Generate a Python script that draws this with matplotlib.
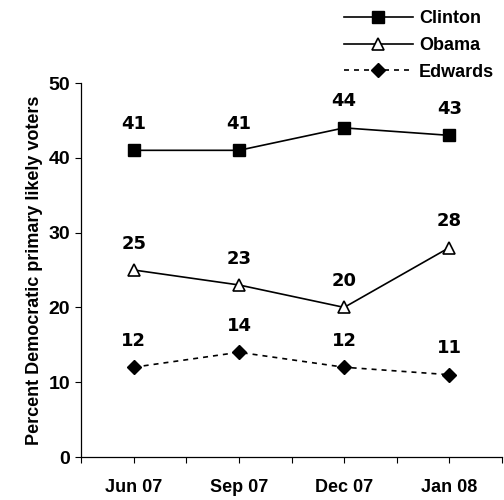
# poll trend chart: Democratic primary likely voters, Jun 07 - Jan 08

import matplotlib
matplotlib.use("Agg")
import matplotlib.pyplot as plt

months   = ["Jun 07", "Sep 07", "Dec 07", "Jan 08"]
clinton  = [41, 41, 44, 43]
obama    = [25, 23, 20, 28]
edwards  = [12, 14, 12, 11]
y_ticks  = [0, 10, 20, 30, 40, 50]

plt.rcParams["font.family"] = ["Liberation Sans", "DejaVu Sans"]
plt.rcParams["font.weight"] = "bold"

fig = plt.figure(figsize=(5.04, 5.0), dpi=100)
ax = fig.add_axes([0.161, 0.086, 0.835, 0.748])

x = list(range(len(months)))

ax.plot(x, clinton, color="black", lw=1.2, marker="s", ms=8,
        mfc="black", mec="black", label="Clinton")
ax.plot(x, obama, color="black", lw=1.2, marker="^", ms=9,
        mfc="white", mec="black", mew=1.2, label="Obama")
ax.plot(x, edwards, color="black", lw=1.2, ls=(0, (3, 3)), marker="D", ms=7,
        mfc="black", mec="black", label="Edwards")

# value labels sit above each point (the reference uses a wider, Verdana-like face)
for series in (clinton, obama, edwards):
    for xi, v in zip(x, series):
        ax.annotate(str(v), (xi, v), xytext=(0, 19), textcoords="offset points",
                    ha="center", va="center", fontsize=13, fontweight="bold",
                    family="DejaVu Sans")

ax.set_xlim(-0.5, len(months) - 0.5)
ax.set_ylim(0, 50)
ax.set_xticks(x)
ax.set_xticklabels(months)
# small tick marks at every half category, like the original
ax.set_xticks([i * 0.5 - 0.5 for i in range(2 * len(months) + 1)], minor=True)
ax.tick_params(axis="x", which="major", length=4, width=0.8, pad=12, labelsize=13)
ax.tick_params(axis="x", which="minor", length=4, width=0.8)
ax.set_yticks(y_ticks)
ax.tick_params(axis="y", length=4, width=0.8, pad=4, labelsize=14)
for lab in ax.get_xticklabels() + ax.get_yticklabels():
    lab.set_fontweight("bold")

ax.spines["top"].set_visible(False)
ax.spines["right"].set_visible(False)
ax.spines["left"].set_linewidth(0.9)
ax.spines["bottom"].set_linewidth(0.9)

ax.set_ylabel("Percent Democratic primary likely voters", fontsize=13,
              fontweight="bold", labelpad=4)

leg = fig.legend(loc="upper right", bbox_to_anchor=(1.0, 1.0), frameon=False,
                 handlelength=3.8, fontsize=13, labelspacing=0.55,
                 handletextpad=0.35, borderpad=0.05)
for t in leg.get_texts():
    t.set_fontweight("bold")

fig.savefig("out.png", dpi=100)
